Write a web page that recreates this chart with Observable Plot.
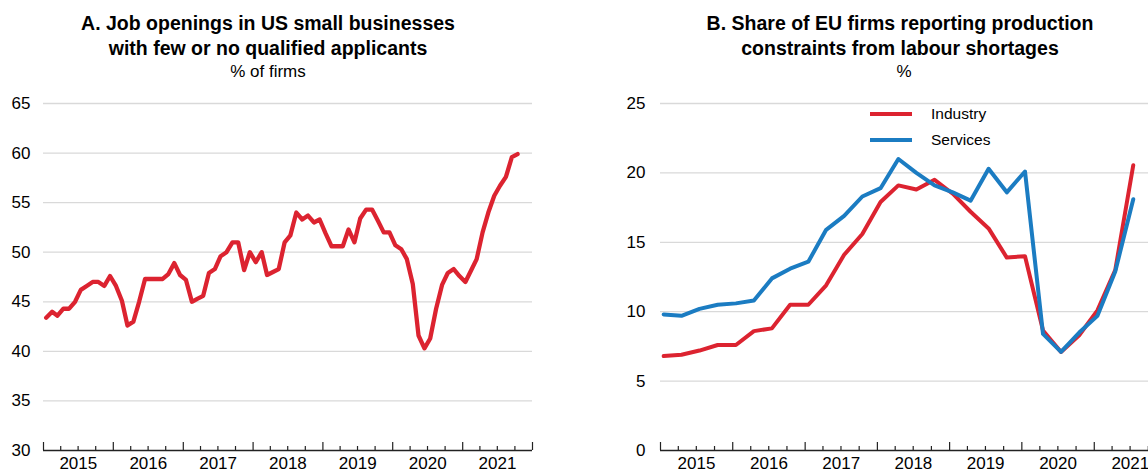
<!DOCTYPE html>
<html>
<head>
<meta charset="utf-8">
<script src="https://cdn.jsdelivr.net/npm/d3@7"></script>
<script src="https://cdn.jsdelivr.net/npm/@observablehq/plot@0.6"></script>
<style>
  html, body { margin: 0; padding: 0; background: #fff; overflow: hidden; }
  #wrap { position: relative; width: 1148px; height: 473px; overflow: hidden;
          font-family: "Liberation Sans", Arial, Helvetica, sans-serif; color: #000; }
  .title { position: absolute; text-align: center; font-weight: bold; font-size: 19.5px; line-height: 25px; z-index: 2; }
  .sub { position: absolute; text-align: center; font-size: 17px; line-height: 20px; z-index: 2; }
  .panel { position: absolute; top: 0; }
  .panel svg { max-width: none !important; }
  .leg { position: absolute; display: flex; align-items: center; height: 20px; font-size: 15.5px; z-index: 2; }
  .leg span.sw { display: inline-block; width: 42px; height: 4px; margin-right: 19px; }
</style>
</head>
<body>
<div id="wrap">
  <div class="title" style="left:0; width:536px; top:11px;">A. Job openings in US small businesses<br>with few or no qualified applicants</div>
  <div class="sub" style="left:0; width:536px; top:62px;">% of firms</div>
  <div class="title" style="left:640px; width:520px; top:11px;">B. Share of EU firms reporting production<br>constraints from labour shortages</div>
  <div class="sub" style="left:644px; width:520px; top:62px;">%</div>
  <div id="panelA" class="panel" style="left:0;"></div>
  <div id="panelB" class="panel" style="left:574px;"></div>
  <div id="legend"></div>
</div>
<script>
// ---------- Data ----------
// Panel A: monthly, Jan 2015 – Oct 2021 (% of firms)
const usStartYear = 2015;
const usValues = [
  43.4, 44.0, 43.6, 44.3, 44.3, 45.0, 46.2, 46.6, 47.0, 47.0, 46.6, 47.6,
  46.6, 45.1, 42.6, 43.0, 45.0, 47.3, 47.3, 47.3, 47.3, 47.8, 48.9, 47.7,
  47.2, 45.0, 45.3, 45.6, 47.9, 48.3, 49.6, 50.0, 51.0, 51.0, 48.2, 50.0,
  49.0, 50.0, 47.7, 48.0, 48.3, 51.0, 51.7, 54.0, 53.3, 53.7, 53.0, 53.3,
  51.9, 50.6, 50.6, 50.6, 52.3, 51.0, 53.4, 54.3, 54.3, 53.2, 52.0, 52.0,
  50.7, 50.3, 49.3, 46.8, 41.6, 40.3, 41.3, 44.3, 46.7, 47.9, 48.3, 47.6,
  47.0, 48.2, 49.3, 52.0, 54.0, 55.7, 56.7, 57.6, 59.6, 59.9
];

// Panel B: quarterly, 2015 Q1 – 2021 Q3 (%)
const euSeriesNames = ["Industry", "Services"];
const industry = [
  6.8, 6.9, 7.2, 7.6, 7.6, 8.6, 8.8, 10.5, 10.5, 11.9, 14.1, 15.6,
  17.9, 19.1, 18.8, 19.5, 18.5, 17.2, 16.0, 13.9, 14.0, 8.65, 7.1, 8.3,
  10.1, 13.0, 20.55
];
const services = [
  9.8, 9.7, 10.2, 10.5, 10.6, 10.8, 12.4, 13.1, 13.6, 15.9, 16.9, 18.3,
  18.9, 21.0, 20.0, 19.1, 18.6, 18.0, 20.3, 18.6, 20.1, 8.4, 7.1, 8.5,
  9.7, 12.9, 18.1
];

// Axis tick labels
const yearLabels = ["2015", "2016", "2017", "2018", "2019", "2020", "2021"];
const yTicksA = [30, 35, 40, 45, 50, 55, 60, 65];
const yTicksB = [0, 5, 10, 15, 20, 25];

// ---------- Build ----------
const RED = "#dc2330";
const BLUE = "#1b7cc2";
const FONT = '"Liberation Sans", Arial, Helvetica, sans-serif';

const usData = usValues.map((v, i) => ({ date: new Date(Date.UTC(usStartYear, i, 15)), value: v }));
const euData = industry.map((v, i) => ({
  date: new Date(Date.UTC(2015, 3 * i, 17)),
  industry: v,
  services: services[i]
}));

const firstYear = +yearLabels[0];
const lastYear = +yearLabels[yearLabels.length - 1] + 1;
const midYears = yearLabels.map(y => new Date(Date.UTC(+y, 6, 2)));
const yearTicks = d3.range(firstYear, lastYear + 1).map(y => new Date(Date.UTC(y, 0, 1)));
const quarterTicks = [];
for (let y = firstYear; y < lastYear; y++) for (const m of [3, 6, 9]) quarterTicks.push(new Date(Date.UTC(y, m, 1)));

function panel(opts) {
  const H = 473, mt = 103, mb = 23;
  const [y0, y1] = opts.yDomain;
  const unit = (y1 - y0) / (H - mt - mb);
  const marks = [
    Plot.ruleY(opts.yTicks.filter(t => t !== y0), { stroke: "#d9d9d9", strokeWidth: 1.3 }),
    Plot.axisY(opts.yTicks, { tickSize: 0, tickPadding: opts.tickPad, fontSize: 17, label: null }),
    Plot.axisX(midYears, { tickSize: 0, tickPadding: 6, fontSize: 17, label: null,
      tickFormat: d => String(d.getUTCFullYear()) }),
    ...opts.lines,
    Plot.ruleY([y0], { stroke: "#222", strokeWidth: 1.3 }),
    Plot.ruleX(quarterTicks, { x: d => d, y1: y0, y2: y0 + 4 * unit, stroke: "#222", strokeWidth: 1.2 }),
    Plot.ruleX(yearTicks, { x: d => d, y1: y0, y2: y0 + 8 * unit, stroke: "#222", strokeWidth: 1.2 })
  ];
  return Plot.plot({
    width: opts.width, height: H,
    marginTop: mt, marginBottom: mb, marginLeft: opts.marginLeft, marginRight: opts.marginRight,
    x: { type: "utc", domain: [yearTicks[0], yearTicks[yearTicks.length - 1]], label: null },
    y: { domain: opts.yDomain, label: null },
    style: { fontFamily: FONT, fontSize: "17px", color: "#000", background: "transparent", overflow: "visible" },
    marks
  });
}

const svgA = panel({
  width: 560, marginLeft: 43, marginRight: 28, yDomain: [30, 65], yTicks: yTicksA, tickPad: 13,
  lines: [Plot.line(usData, { x: "date", y: "value", stroke: RED, strokeWidth: 4.3, strokeLinejoin: "round" })]
});
document.getElementById("panelA").appendChild(svgA);

const svgB = panel({
  width: 620, marginLeft: 86, marginRight: 28, yDomain: [0, 25], yTicks: yTicksB, tickPad: 15,
  lines: [
    Plot.line(euData, { x: "date", y: "industry", stroke: RED, strokeWidth: 4, strokeLinejoin: "round" }),
    Plot.line(euData, { x: "date", y: "services", stroke: BLUE, strokeWidth: 4, strokeLinejoin: "round" })
  ]
});
document.getElementById("panelB").appendChild(svgB);

// Legend
const legend = document.getElementById("legend");
const legColors = [RED, BLUE];
const legTops = [104, 130];
euSeriesNames.forEach((name, i) => {
  const row = document.createElement("div");
  row.className = "leg";
  row.style.left = "870px";
  row.style.top = legTops[i] + "px";
  const sw = document.createElement("span");
  sw.className = "sw";
  sw.style.background = legColors[i];
  row.appendChild(sw);
  row.appendChild(document.createTextNode(name));
  legend.appendChild(row);
});
</script>
</body>
</html>
